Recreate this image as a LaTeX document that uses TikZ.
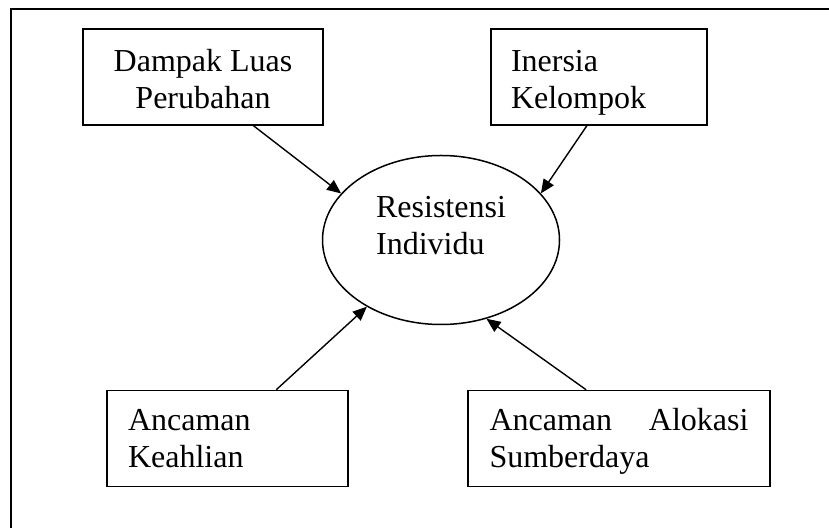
\documentclass[tikz,border=0pt]{standalone}
\usepackage{fontspec}
\setmainfont{Liberation Serif}
\usetikzlibrary{shapes.geometric, arrows.meta, positioning}

\begin{document}
\begin{tikzpicture}[
        x=0.5pt, y=-0.5pt,
        node distance=15pt and 15pt,
        >={Triangle[length=7pt,width=6pt]},
        font=\fontsize{16}{18.5}\selectfont,
        % Bentuk kotak faktor dan elips inti
        kotak/.style={rectangle, draw=black, line width=0.75pt, minimum height=48pt, inner xsep=10pt, text height=11pt, text depth=19pt},
        inti/.style={ellipse, draw=black, line width=0.75pt, minimum width=118.5pt, minimum height=84.5pt, inner sep=0pt, align=left, text depth=15pt},
        panah/.style={line width=0.7pt, ->}
    ]
    \useasboundingbox (0,0) rectangle (829,528);

    % --- 1. BINGKAI ---
    \draw[line width=1pt] (11,540) |- (840,9);

    % --- 2. NODE ---
    \node[inti] (resist) at (441,240) {Resistensi\\Individu};

    \node[kotak, minimum width=120pt, align=center, text height=32pt, text depth=0pt, above=14.5pt of resist, xshift=-119pt] (dampak) {Dampak Luas\\Perubahan};

    \node[kotak, text width=88pt, align=left, text depth=16pt, above=14.5pt of resist, xshift=79pt] (inersia) {Inersia\\Kelompok};

    \node[kotak, text width=99.5pt, inner xsep=10.5pt, align=left, below=32.25pt of resist, xshift=-106.75pt] (keahlian) {Ancaman\\Keahlian};

    \node[kotak, text width=129.5pt, inner xsep=10.75pt, align=left, below=32.25pt of resist, xshift=89pt] (alokasi) {Ancaman\hfill Alokasi\\Sumberdaya};

    % --- 3. PANAH ---
    \draw[panah] (dampak.-44) -- (resist.155);
    \draw[panah] (inersia.-104) -- (resist.25);
    \draw[panah] (keahlian.45) -- (resist.-138);
    \draw[panah] (alokasi.124) -- (resist.-60);

\end{tikzpicture}
\end{document}
